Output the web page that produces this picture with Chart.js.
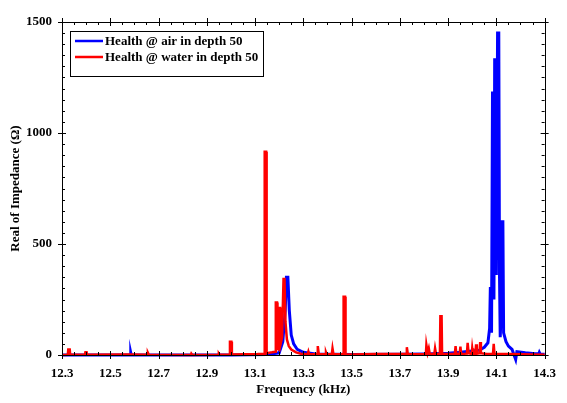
<!DOCTYPE html>
<html>
<head>
<meta charset="utf-8">
<script src="https://cdn.jsdelivr.net/npm/chart.js@4/dist/chart.umd.min.js"></script>
<style>
  html, body { margin: 0; padding: 0; background: #ffffff; }
  #wrap { width: 567px; height: 403px; }
</style>
</head>
<body>
<div id="wrap"><canvas id="chart" width="567" height="403"></canvas></div>
<script>
// Impedance sweep: real part (Ω) vs. frequency (kHz)
const seriesNames = ['Health @ air in depth 50', 'Health @ water in depth 50'];

const airFreq = [
  12.300, 12.583, 12.585, 12.587, 13.000, 13.150, 13.200, 13.215, 13.225, 13.230,
  13.236, 13.242, 13.250, 13.260, 13.275, 13.300, 13.350, 13.500, 13.700, 13.800,
  13.900, 13.950, 14.000, 14.030, 14.050, 14.065, 14.072, 14.075, 14.078, 14.080,
  14.084, 14.088, 14.090, 14.093, 14.097, 14.100, 14.105, 14.110, 14.113, 14.116,
  14.120, 14.123, 14.127, 14.130, 14.140, 14.150, 14.165, 14.180, 14.185, 14.220,
  14.260, 14.276, 14.278, 14.281, 14.300
];
const airReal = [
  0, 0, 10, 0, 0, 2, 10, 60, 200, 350,
  350, 200, 90, 50, 25, 12, 5, 2, 3, 5,
  8, 12, 18, 22, 35, 55, 120, 300, 300, 100,
  1180, 1180, 250, 1330, 1330, 360, 1450, 1450, 360, 80,
  200, 600, 600, 100, 60, 40, 25, -20, 15, 10,
  6, 6, 12, 5, 3
];

const waterFreq = [
  12.300, 12.324, 12.326, 12.332, 12.334, 12.395, 12.397, 12.402, 12.404, 12.580,
  12.654, 12.656, 12.660, 12.834, 12.836, 12.840, 12.948, 12.950, 12.953, 12.994,
  12.996, 13.002, 13.004, 13.060, 13.110, 13.138, 13.140, 13.146, 13.148, 13.170,
  13.184, 13.186, 13.191, 13.193, 13.197, 13.199, 13.204, 13.206, 13.212, 13.218,
  13.222, 13.226, 13.232, 13.240, 13.250, 13.270, 13.290, 13.300, 13.318, 13.321,
  13.324, 13.358, 13.360, 13.364, 13.392, 13.394, 13.397, 13.418, 13.421, 13.425,
  13.440, 13.465, 13.467, 13.473, 13.475, 13.500, 13.600, 13.700, 13.726, 13.729,
  13.733, 13.780, 13.808, 13.810, 13.815, 13.820, 13.824, 13.843, 13.846, 13.850,
  13.866, 13.868, 13.873, 13.875, 13.900, 13.928, 13.931, 13.934, 13.948, 13.951,
  13.954, 13.978, 13.981, 13.985, 13.998, 14.000, 14.003, 14.013, 14.016, 14.019,
  14.030, 14.033, 14.036, 14.060, 14.086, 14.089, 14.092, 14.150, 14.200, 14.250,
  14.300
];
const waterReal = [
  0, 1, 25, 25, 1, 1, 12, 12, 1, 2,
  1, 10, 1, 0, 6, 0, 1, 6, 1, 2,
  60, 60, 2, 3, 4, 6, 915, 915, 8, 12,
  15, 236, 236, 30, 25, 212, 212, 50, 80, 342,
  342, 150, 70, 40, 25, 12, 6, 4, 3, 15,
  3, 4, 40, 4, 3, 12, 3, 3, 30, 3,
  3, 3, 262, 262, 3, 2, 4, 5, 5, 35,
  5, 3, 4, 45, 10, 30, 5, 5, 30, 5,
  5, 175, 175, 5, 4, 5, 40, 5, 5, 38,
  5, 6, 55, 8, 5, 30, 5, 6, 48, 6,
  8, 58, 8, 5, 5, 50, 5, 4, 3, 2,
  1
];

const freqTicks = [12.3, 12.5, 12.7, 12.9, 13.1, 13.3, 13.5, 13.7, 13.9, 14.1, 14.3];
const realTicks = [0, 500, 1000, 1500];
const freqMinorStep = 0.05;
const realMinorStep = 50;

const seriesColors = ['#0000ff', '#ff0000'];
const FONT = '"Liberation Serif", "Times New Roman", serif';

const toPoints = (xs, ys) => xs.map((x, i) => ({ x: x, y: ys[i] }));

// Frame with major ticks crossing the axes and inward minor ticks on all four sides
const framePlugin = {
  id: 'frame',
  afterDatasetsDraw(chart) {
    const { ctx, chartArea: a, scales: { x, y } } = chart;
    ctx.save();
    ctx.strokeStyle = '#000000';
    ctx.lineWidth = 1;
    ctx.beginPath();
    ctx.rect(Math.round(a.left) + 0.5, Math.round(a.top) + 0.5,
             Math.round(a.right - a.left), Math.round(a.bottom - a.top));
    ctx.stroke();

    ctx.beginPath();
    const xMin = freqTicks[0], xMax = freqTicks[freqTicks.length - 1];
    const nx = Math.round((xMax - xMin) / freqMinorStep);
    for (let i = 0; i <= nx; i++) {
      const v = xMin + i * freqMinorStep;
      const px = Math.round(x.getPixelForValue(v)) + 0.5;
      const major = (i % 4 === 0);
      const inLen = major ? 4 : 3, outLen = major ? 4 : 0;
      ctx.moveTo(px, a.bottom + outLen); ctx.lineTo(px, a.bottom - inLen);
      ctx.moveTo(px, a.top - outLen); ctx.lineTo(px, a.top + inLen);
    }
    const yMax = realTicks[realTicks.length - 1];
    for (let v = 0; v <= yMax; v += realMinorStep) {
      const py = Math.round(y.getPixelForValue(v)) + 0.5;
      const major = (v % 500 === 0);
      const inLen = major ? 4 : 3, outLen = major ? 4 : 0;
      ctx.moveTo(a.left - outLen, py); ctx.lineTo(a.left + inLen, py);
      ctx.moveTo(a.right + outLen, py); ctx.lineTo(a.right - inLen, py);
    }
    ctx.stroke();
    ctx.restore();
  },
  afterDraw(chart) {
    // boxed legend in the upper-left corner of the plot
    const { ctx, chartArea: a } = chart;
    const bx = a.left + 8, by = a.top + 9, bw = 193, bh = 45;
    ctx.save();
    ctx.fillStyle = '#ffffff';
    ctx.fillRect(bx, by, bw, bh);
    ctx.strokeStyle = '#000000';
    ctx.lineWidth = 1;
    ctx.strokeRect(Math.round(bx) + 0.5, Math.round(by) + 0.5, bw, bh);
    ctx.font = 'bold 13px ' + FONT;
    ctx.textBaseline = 'middle';
    ctx.fillStyle = '#000000';
    seriesNames.forEach((name, i) => {
      const ly = by + 10 + i * 16;
      ctx.strokeStyle = seriesColors[i];
      ctx.lineWidth = 2.5;
      ctx.beginPath();
      ctx.moveTo(bx + 5, ly); ctx.lineTo(bx + 33, ly);
      ctx.stroke();
      ctx.fillText(name, bx + 35, ly + 1);
    });
    ctx.restore();
  }
};

new Chart(document.getElementById('chart'), {
  type: 'line',
  data: {
    datasets: [
      {
        label: seriesNames[0],
        data: toPoints(airFreq, airReal),
        borderColor: seriesColors[0],
        backgroundColor: seriesColors[0],
        borderWidth: 3,
        pointRadius: 0,
        tension: 0,
        clip: false,
        order: 1
      },
      {
        label: seriesNames[1],
        data: toPoints(waterFreq, waterReal),
        borderColor: seriesColors[1],
        backgroundColor: seriesColors[1],
        borderWidth: 2.5,
        pointRadius: 0,
        tension: 0,
        clip: false,
        order: 0
      }
    ]
  },
  options: {
    responsive: false,
    animation: false,
    events: [],
    layout: { padding: { top: 22, right: 20, left: 0, bottom: 0 } },
    plugins: { legend: { display: false }, tooltip: { enabled: false } },
    scales: {
      x: {
        type: 'linear',
        min: freqTicks[0],
        max: freqTicks[freqTicks.length - 1],
        afterBuildTicks: (s) => { s.ticks = freqTicks.map(v => ({ value: v })); },
        afterFit: (s) => { s.height = 48; },
        grid: { display: false, drawTicks: false },
        border: { display: false },
        ticks: {
          padding: 11,
          maxRotation: 0,
          autoSkip: false,
          color: '#000000',
          font: { family: FONT, size: 13, weight: 'bold' },
          callback: (v) => Number(v).toFixed(1)
        },
        title: {
          display: true,
          text: 'Frequency (kHz)',
          color: '#000000',
          font: { family: FONT, size: 13, weight: 'bold' },
          padding: { top: 0, bottom: 6 }
        }
      },
      y: {
        type: 'linear',
        min: realTicks[0],
        max: realTicks[realTicks.length - 1],
        afterBuildTicks: (s) => { s.ticks = realTicks.map(v => ({ value: v })); },
        afterFit: (s) => { s.width = 62; },
        grid: { display: false, drawTicks: false },
        border: { display: false },
        ticks: {
          padding: 10,
          color: '#000000',
          font: { family: FONT, size: 13, weight: 'bold' },
          callback: (v) => String(v)
        },
        title: {
          display: true,
          text: 'Real of Impedance (Ω)',
          color: '#000000',
          font: { family: FONT, size: 13, weight: 'bold' },
          padding: { top: 8, bottom: 0 }
        }
      }
    }
  },
  plugins: [framePlugin]
});
</script>
</body>
</html>
